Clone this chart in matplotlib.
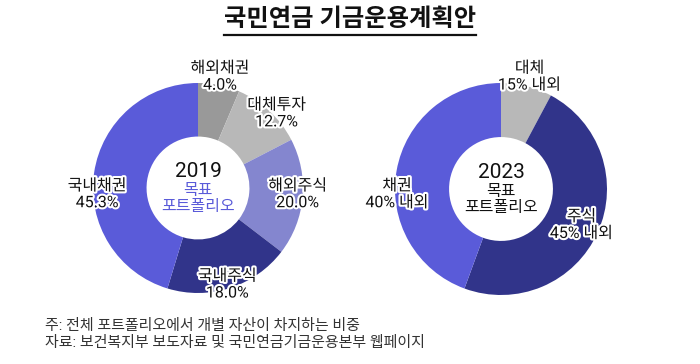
import matplotlib
matplotlib.use("Agg")
import matplotlib.pyplot as plt
import matplotlib.patheffects as pe
from matplotlib.lines import Line2D

plt.rcParams['font.family'] = ['Roboto', 'Noto Sans CJK KR', 'DejaVu Sans']

# 1) Datos (shares as drawn in the picture)
names_2019 = ["해외채권", "대체투자", "해외주식", "국내주식", "국내채권"]
labels_2019 = ["4.0%", "12.7%", "20.0%", "18.0%", "45.3%"]
shares_2019 = [6.4, 11.0, 18.0, 19.3, 45.3]
colors_2019 = ["#999999", "#b8b8b8", "#8486cf", "#31348a", "#5a5bd9"]

names_2023 = ["대체", "주식", "채권"]
labels_2023 = ["15% 내외", "45% 내외", "40% 내외"]
shares_2023 = [7.8, 47.8, 44.4]
colors_2023 = ["#b8b8b8", "#31348a", "#5a5bd9"]

# label positions (in units of the donut radius)
pos_2019 = [(0.21, 1.06), (0.75, 0.71), (0.95, -0.06), (0.28, -0.92), (-0.96, -0.06)]
pos_2023 = [(0.27, 1.06), (0.76, -0.34), (-0.98, -0.05)]

W, H = 700, 364
fig = plt.figure(figsize=(W / 100, H / 100), dpi=100)
outline = [pe.withStroke(linewidth=3, foreground="white")]


def donut(cx, cy, r, shares, colors, names, labels, pos, year, sub_color):
    size = 260
    ax = fig.add_axes([(cx - size / 2) / W, 1 - (cy + size / 2) / H, size / W, size / H])
    lim = size / 2 / r
    ax.pie(shares, colors=colors, startangle=90, counterclock=False, radius=1,
           wedgeprops=dict(width=0.51, linewidth=0))
    ax.set_xlim(-lim, lim)
    ax.set_ylim(-lim, lim)
    ax.set_aspect("equal")
    ax.axis("off")
    for (x, y), n, l in zip(pos, names, labels):
        ax.text(x, y, n + "\n" + l, ha="center", va="center", fontsize=11.5,
                linespacing=1.15, color="#111111", path_effects=outline)
    ax.text(0, 0.16, year, ha="center", va="center", fontsize=15, color="#111111")
    ax.text(0, -0.1, "목표\n포트폴리오", ha="center", va="center", fontsize=11.5,
            linespacing=1.05, color=sub_color)


donut(198, 188, 105, shares_2019, colors_2019, names_2019, labels_2019, pos_2019,
      "2019", "#5a5bd9")
donut(501, 189, 106, shares_2023, colors_2023, names_2023, labels_2023, pos_2023,
      "2023", "#111111")

# title with underline
t = fig.text(0.5, 1 - 19 / H, "국민연금 기금운용계획안", ha="center", va="center",
             fontsize=17.5, fontweight="bold", color="#111111")
fig.canvas.draw()
bb = t.get_window_extent().transformed(fig.transFigure.inverted())
fig.add_artist(Line2D([bb.x0, bb.x1], [1 - 35 / H, 1 - 35 / H], color="#111111",
                      linewidth=1.6, transform=fig.transFigure))

# notes
fig.text(45 / W, 1 - 326 / H, "주: 전체 포트폴리오에서 개별 자산이 차지하는 비중",
         ha="left", va="center", fontsize=10.8, color="#333333")
fig.text(45 / W, 1 - 343 / H, "자료: 보건복지부 보도자료 및 국민연금기금운용본부 웹페이지",
         ha="left", va="center", fontsize=10.8, color="#333333")

fig.savefig("out.png", dpi=100)
